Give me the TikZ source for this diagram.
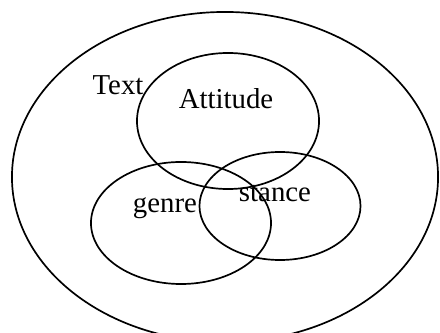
\documentclass[tikz,border=0pt]{standalone}
\usepackage{fontspec}
\setmainfont{Liberation Serif}
\usetikzlibrary{shapes.geometric}

\begin{document}
\begin{tikzpicture}[
  x=0.025cm, y=-0.025cm,
  setring/.style={draw, ellipse, line width=1.2pt, inner sep=0pt},
  setlabel/.style={anchor=base, inner sep=0pt, font=\fontsize{20.5}{24}\selectfont}
]
  \clip (0,0) rectangle (440,333);
  \useasboundingbox (0,0) rectangle (440,333);

  % sets
  \node[setring, minimum width=10.65cm, minimum height=8.25cm] (text) at (225,177) {};
  \node[setring, minimum width=4.55cm, minimum height=3.4cm] (attitude) at (228,121) {};
  \node[setring, minimum width=4.5cm, minimum height=3.05cm] (genre) at (181,223) {};
  \node[setring, minimum width=4.025cm, minimum height=2.7cm] (stance) at (280,206) {};

  % labels
  \node[setlabel] (textlbl) at (118,95) {Text};
  \node[setlabel] (attitudelbl) at (226,109) {Attitude};
  \node[setlabel] (genrelbl) at (165,213) {genre};
  \node[setlabel] (stancelbl) at (275,202) {stance};
\end{tikzpicture}
\end{document}
